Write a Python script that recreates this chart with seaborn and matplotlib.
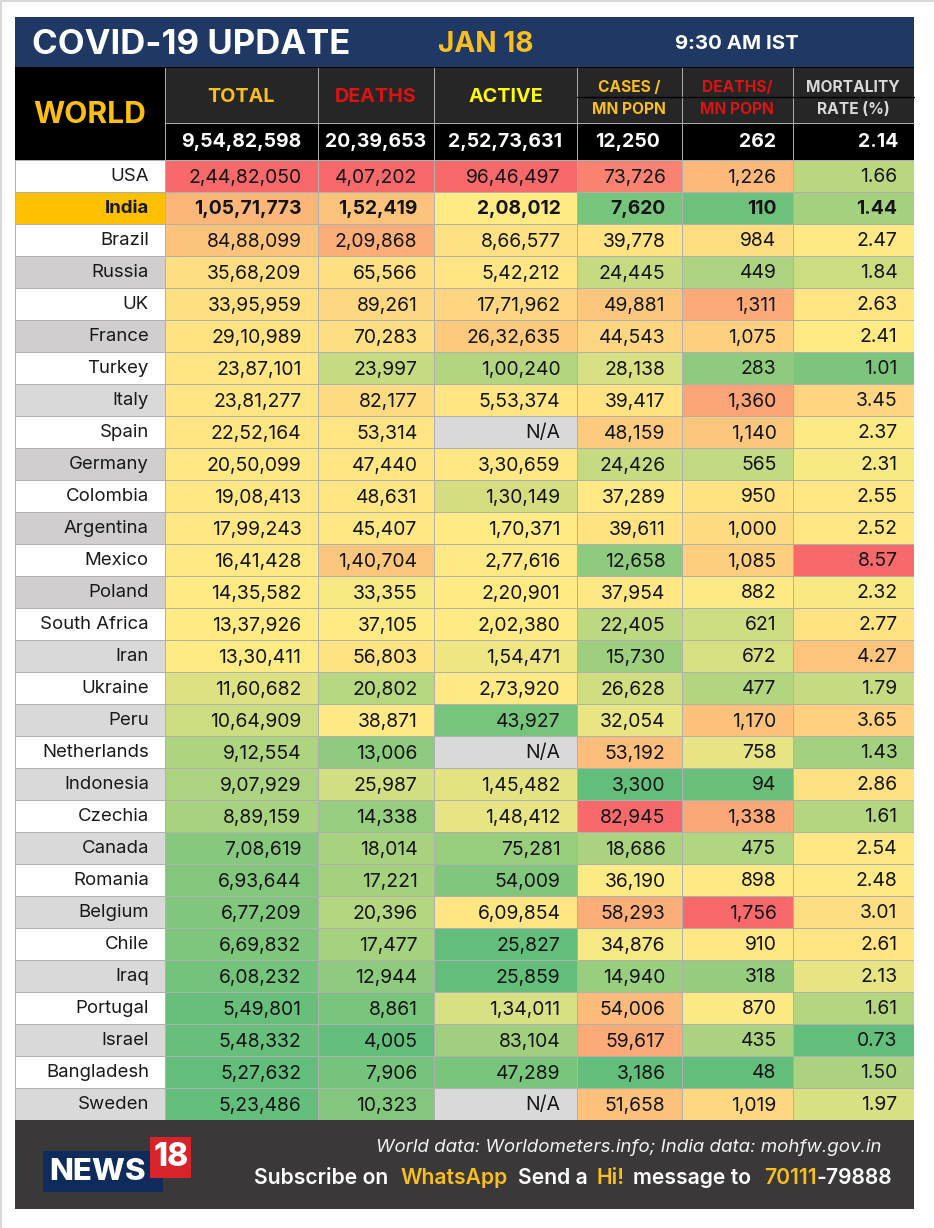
import numpy as np
import pandas as pd
import matplotlib
matplotlib.use("Agg")
import matplotlib.pyplot as plt
from matplotlib.colors import LinearSegmentedColormap, ListedColormap, TwoSlopeNorm
from matplotlib.patches import Rectangle
import seaborn as sns

# Table values
countries = ["USA", "India", "Brazil", "Russia", "UK", "France", "Turkey", "Italy", "Spain", "Germany",
             "Colombia", "Argentina", "Mexico", "Poland", "South Africa", "Iran", "Ukraine", "Peru",
             "Netherlands", "Indonesia", "Czechia", "Canada", "Romania", "Belgium", "Chile", "Iraq",
             "Portugal", "Israel", "Bangladesh", "Sweden"]
total = [24482050, 10571773, 8488099, 3568209, 3395959, 2910989, 2387101, 2381277, 2252164, 2050099,
         1908413, 1799243, 1641428, 1435582, 1337926, 1330411, 1160682, 1064909, 912554, 907929,
         889159, 708619, 693644, 677209, 669832, 608232, 549801, 548332, 527632, 523486]
deaths = [407202, 152419, 209868, 65566, 89261, 70283, 23997, 82177, 53314, 47440,
          48631, 45407, 140704, 33355, 37105, 56803, 20802, 38871, 13006, 25987,
          14338, 18014, 17221, 20396, 17477, 12944, 8861, 4005, 7906, 10323]
active = [9646497, 208012, 866577, 542212, 1771962, 2632635, 100240, 553374, np.nan, 330659,
          130149, 170371, 277616, 220901, 202380, 154471, 273920, 43927, np.nan, 145482,
          148412, 75281, 54009, 609854, 25827, 25859, 134011, 83104, 47289, np.nan]
cases_mn = [73726, 7620, 39778, 24445, 49881, 44543, 28138, 39417, 48159, 24426,
            37289, 39611, 12658, 37954, 22405, 15730, 26628, 32054, 53192, 3300,
            82945, 18686, 36190, 58293, 34876, 14940, 54006, 59617, 3186, 51658]
deaths_mn = [1226, 110, 984, 449, 1311, 1075, 283, 1360, 1140, 565,
             950, 1000, 1085, 882, 621, 672, 477, 1170, 758, 94,
             1338, 475, 898, 1756, 910, 318, 870, 435, 48, 1019]
mortality = [1.66, 1.44, 2.47, 1.84, 2.63, 2.41, 1.01, 3.45, 2.37, 2.31,
             2.55, 2.52, 8.57, 2.32, 2.77, 4.27, 1.79, 3.65, 1.43, 2.86,
             1.61, 2.54, 2.48, 3.01, 2.61, 2.13, 1.61, 0.73, 1.50, 1.97]
# 0 white, 1 amber, 2 darker grey, 3 light grey
row_bands = [0, 1, 0, 2, 0, 2, 0, 3, 0, 2, 0, 2, 0, 2, 0, 3, 0, 3, 0, 3,
             0, 3, 0, 3, 0, 3, 0, 3, 0, 3]
world_totals = ["9,54,82,598", "20,39,653", "2,52,73,631", "12,250", "262", "2.14"]


def indian_fmt(v):
    # lakh style grouping, e.g. 2,44,82,050
    if np.isnan(v):
        return "N/A"
    s = str(int(v))
    if len(s) <= 3:
        return s
    head, tail = s[:-3], s[-3:]
    parts = []
    while len(head) > 2:
        parts.insert(0, head[-2:])
        head = head[:-2]
    if head:
        parts.insert(0, head)
    return ",".join(parts + [tail])


W, H = 934, 1228
FONT = "Inter"
GRID = "#b0b0b0"
GOLD = "#f9bf1d"
RED = "#dd1212"

sns.set_theme(style="white")
plt.rcParams["font.family"] = FONT

fig = plt.figure(figsize=(W / 100, H / 100), dpi=100, facecolor="white")

# Pixel canvas for the header, footer and page furniture
bg = fig.add_axes([0, 0, 1, 1], zorder=0)
bg.set_xlim(0, W)
bg.set_ylim(H, 0)
bg.axis("off")


def box(x0, y0, x1, y1, color, **kw):
    bg.add_patch(Rectangle((x0, y0), x1 - x0, y1 - y0, facecolor=color, edgecolor=kw.pop("edge", "none"),
                           linewidth=kw.pop("lw", 0), **kw))


def label(x, y, s, size, color="white", weight="bold", ha="center", **kw):
    bg.text(x, y, s, fontsize=size, color=color, fontweight=weight, ha=ha, va="center", **kw)


col_edges = [15, 165, 318, 434, 577, 682, 793, 914]
table_top, table_bottom = 160, 1120

# page edge
box(0, 0, 1.5, H, "#d9d9d9")
box(0, 0, W, 1.5, "#d9d9d9")

# title band
box(15, 17, 914, 67, "#1f3864")
label(32, 44.5, "COVID-19 UPDATE", 25, ha="left")
label(438, 44, "JAN 18", 20.2, color=GOLD, ha="left")
label(675, 44, "9:30 AM IST", 14.7, ha="left")

# column heading block
box(15, 67, 914, 160, "black")
box(165, 68, 914, 123, "#262626")
label(90, 115, "WORLD", 21.7, color="#fdc010")
label(241, 97, "TOTAL", 14.2, color=GOLD)
label(376, 97, "DEATHS", 14.2, color=RED)
label(506, 97, "ACTIVE", 14.2, color="#ffff00")
label(629, 87, "CASES /", 11.2, color=GOLD)
label(629, 110, "MN POPN", 11.2, color=GOLD)
label(737, 87, "DEATHS/", 11.2, color=RED)
label(737, 110, "MN POPN", 11.2, color=RED)
label(853, 87, "MORTALITY", 11.2, color="#d9d9d9")
label(853, 110, "RATE (%)", 11.2, color="#d9d9d9")
for x in col_edges[1:-1]:
    bg.plot([x, x], [68, 160], color=GRID, lw=0.7)
bg.plot([165, 914], [123, 123], color=GRID, lw=0.7)
bg.plot([577, 914], [97, 97], color="black", lw=1)
for x1, s in zip([301, 426, 562, 660, 776, 898], world_totals):
    label(x1, 142, s, 14, ha="right")

# footer
box(15, 1120, 914, 1209, "#3a3838")
label(881, 1148, "World data: Worldometers.info; India data: mohfw.gov.in", 13.5, weight="normal",
      ha="right", style="italic", color="#f2f2f2")
footer_bits = [(254, "Subscribe on", "white"), (400, "WhatsApp", GOLD), (518, "Send a", "white"),
               (597, "Hi!", GOLD), (633, "message to", "white"), (764, "70111", GOLD), (816, "-79888", "white")]
for x, s, c in footer_bits:
    label(x, 1178, s, 15.2, color=c, weight="semibold", ha="left")

# logo
box(43, 1151, 163, 1192, "#0f2b5b")
box(150, 1137, 191, 1178, "#d8232a")
label(49, 1172, "NEWS", 22.5, ha="left", weight="heavy")
label(171, 1158, "18", 23, weight="heavy")

# Excel style three colour scale, one heatmap per column so widths can differ
scale = LinearSegmentedColormap.from_list("rdylgn_xl", ["#63be7b", "#ffeb84", "#f8696b"])
scale.set_bad("#d9d9d9")
band_cmap = ListedColormap(["#ffffff", "#ffc000", "#d0cece", "#d9d9d9"])


def col_axes(i):
    x0, x1 = col_edges[i], col_edges[i + 1]
    return fig.add_axes([x0 / W, 1 - table_bottom / H, (x1 - x0) / W, (table_bottom - table_top) / H], zorder=2)


def place_annots(ax, i, drop, pad=16.5):
    # heatmap centres its annotations, this table is right aligned
    width = col_edges[i + 1] - col_edges[i]
    for row, t in enumerate(ax.texts):
        t.set_position((1 - pad / width, t.get_position()[1] + drop / 32))
        if row == 1:
            t.set_fontweight("bold")


ax = col_axes(0)
sns.heatmap(pd.DataFrame({"country": row_bands}, index=countries), ax=ax, cmap=band_cmap, vmin=-0.5, vmax=3.5,
            cbar=False, xticklabels=False, yticklabels=False, linewidths=0.7, linecolor=GRID,
            annot=np.array(countries).reshape(-1, 1), fmt="",
            annot_kws=dict(fontsize=13.4, color="#1a1a1a", ha="right"))
place_annots(ax, 0, drop=0.7, pad=16)
ax.set_xlabel("")
ax.set_ylabel("")

series = [("total", total), ("deaths", deaths), ("active", active),
          ("cases_mn", cases_mn), ("deaths_mn", deaths_mn), ("mortality", mortality)]
for i, (name, values) in enumerate(series, start=1):
    values = np.array(values, dtype=float)
    if name == "mortality":
        text = [f"{v:.2f}" for v in values]
    else:
        text = [indian_fmt(v) for v in values]
    norm = TwoSlopeNorm(vmin=np.nanmin(values), vcenter=np.nanmedian(values), vmax=np.nanmax(values))
    ax = col_axes(i)
    sns.heatmap(pd.DataFrame({name: values}, index=countries), ax=ax, cmap=scale, norm=norm,
                cbar=False, xticklabels=False, yticklabels=False, linewidths=0.7, linecolor=GRID,
                annot=np.array(text).reshape(-1, 1), fmt="",
                annot_kws=dict(fontsize=13.9, color="#141414", ha="right"))
    place_annots(ax, i, drop=1.5)
    # heatmap leaves masked cells unlabelled
    width = col_edges[i + 1] - col_edges[i]
    for row, v in enumerate(values):
        if np.isnan(v):
            ax.text(1 - 16.5 / width, row + 0.5 + 1.5 / 32, "N/A", fontsize=13.9, color="#141414",
                    ha="right", va="center")
    ax.set_xlabel("")
    ax.set_ylabel("")

fig.savefig("out.png", dpi=100)
